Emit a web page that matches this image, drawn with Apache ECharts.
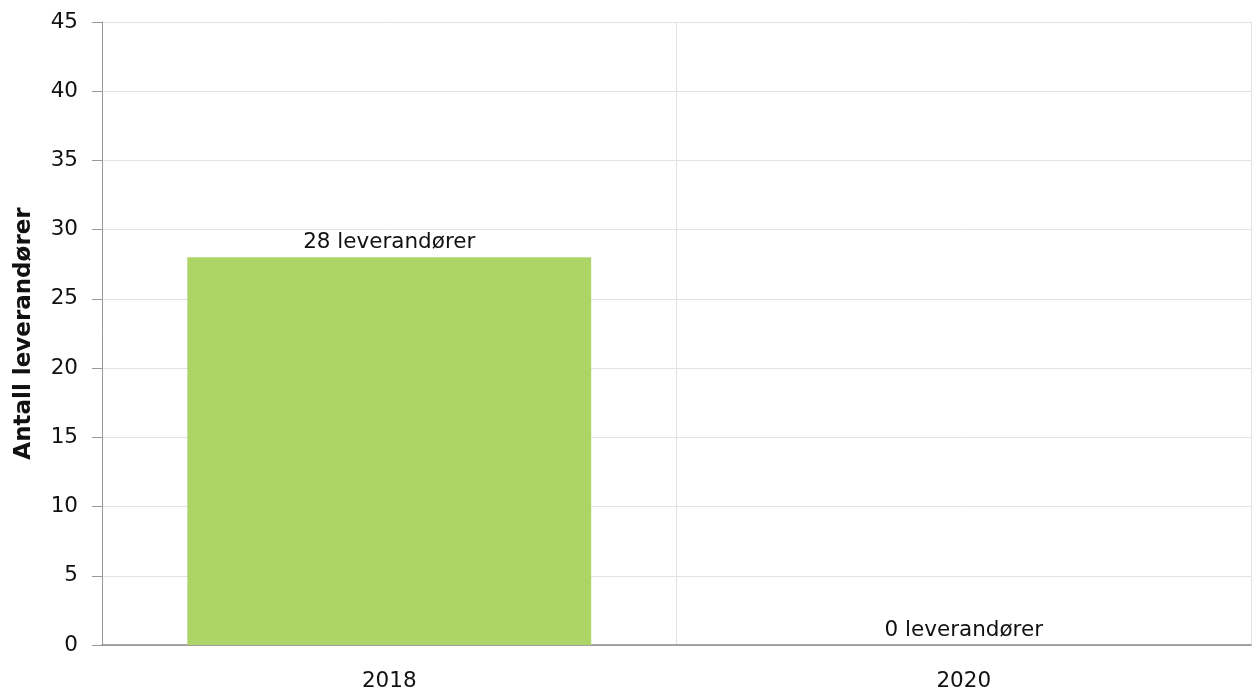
<!DOCTYPE html>
<html>
<head>
<meta charset="utf-8">
<script src="https://cdn.jsdelivr.net/npm/echarts@6/dist/echarts.min.js"></script>
<style>
  html, body { margin: 0; padding: 0; background: #fff; }
  #chart { width: 1252px; height: 693px; }
</style>
</head>
<body>
<div id="chart"></div>
<script>
const years = ['2018', '2020'];
const suppliers = [28, 0];
const yTicks = { min: 0, max: 45, interval: 5 };

const font = 'DejaVu Sans, Verdana, sans-serif';
const chart = echarts.init(document.getElementById('chart'));

chart.setOption({
    animation: false,
    grid: { left: 102, right: 1, top: 22, bottom: 48, containLabel: false },
    xAxis: {
        type: 'category',
        data: years,
        boundaryGap: true,
        axisLine: { lineStyle: { color: '#888', width: 1.5 } },
        axisTick: { alignWithLabel: true, length: 10, lineStyle: { color: '#999' } },
        axisLabel: { color: '#111', fontFamily: font, fontSize: 21.5, margin: 25 },
        splitLine: { show: true, lineStyle: { color: '#e3e3e3' } }
    },
    yAxis: {
        type: 'value',
        min: yTicks.min,
        max: yTicks.max,
        interval: yTicks.interval,
        name: 'Antall leverandører',
        nameLocation: 'middle',
        nameGap: 66,
        nameTextStyle: { color: '#111', fontFamily: font, fontSize: 23, fontWeight: 'bold' },
        axisLine: { show: true, lineStyle: { color: '#999' } },
        axisTick: { show: true, length: 10, lineStyle: { color: '#999' } },
        axisLabel: { color: '#111', fontFamily: font, fontSize: 21.5, margin: 24 },
        splitLine: { lineStyle: { color: '#e3e3e3' } }
    },
    series: [{
        type: 'bar',
        data: suppliers,
        barWidth: '70.3%',
        itemStyle: { color: '#acd466' },
        label: {
            show: true,
            position: 'top',
            distance: 4,
            formatter: '{c} leverandører',
            color: '#111',
            fontFamily: font,
            fontSize: 21.5
        }
    }]
});
</script>
</body>
</html>
